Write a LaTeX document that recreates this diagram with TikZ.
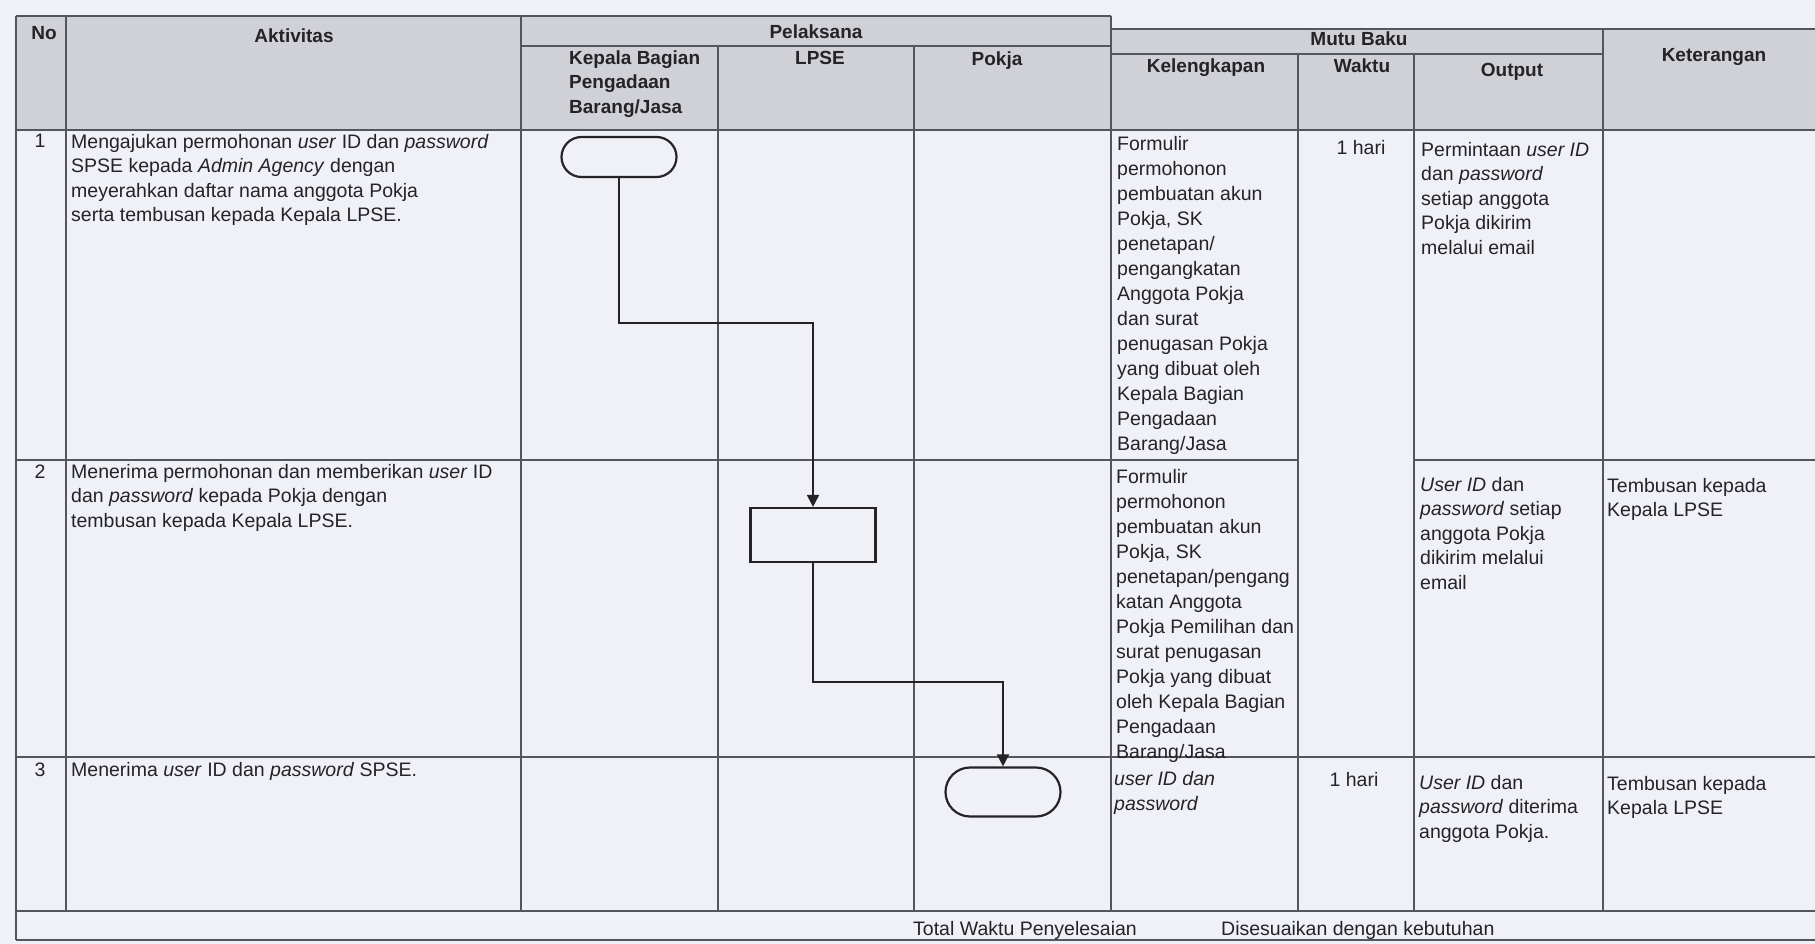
\documentclass[tikz,border=0pt]{standalone}
\usepackage{fontspec}
\setmainfont{Liberation Sans}
\usepackage{xcolor}
\usetikzlibrary{arrows.meta, shapes.misc}
\definecolor{paper}{RGB}{239,241,247}
\definecolor{headgray}{RGB}{208,209,214}
\definecolor{rulegray}{RGB}{85,85,92}
\definecolor{ink}{RGB}{35,35,40}
\newcommand{\bodyfont}{\fontsize{19.5}{24.5}\selectfont}
\newcommand{\kelfont}{\fontsize{19.5}{25}\selectfont}
\newcommand{\headfont}{\fontsize{19}{24.5}\selectfont\bfseries}
\tikzset{>={Triangle[width=12pt,length=12pt]},
grid/.style={draw=rulegray, line width=1.3pt},
cell/.style={anchor=north west, inner sep=0pt, align=left, text=ink, font=\bodyfont},
kel/.style={cell, font=\kelfont},
head/.style={anchor=base, inner sep=0pt, text=ink, font=\headfont},
num/.style={anchor=base, inner sep=0pt, text=ink, font=\bodyfont},
term/.style={rounded rectangle, draw=ink, line width=2.2pt, fill=paper,
  minimum width=115pt, minimum height=40pt, inner sep=0pt},
act/.style={rectangle, draw=ink, line width=2.2pt, fill=paper,
  minimum width=125pt, minimum height=54pt, inner sep=0pt},
flow/.style={draw=ink, line width=2pt, ->}
}

\begin{document}
\begin{tikzpicture}[x=1pt,y=-1pt]
\useasboundingbox (0,0) rectangle (1815,944);
\fill[paper] (0,0) rectangle (1815,944);
\fill[headgray] (16,16) rectangle (1111,130) (1111,29) rectangle (1815,130);
% rules
\draw[grid] (16,16) -- (1111,16) (1111,29) -- (1815,29)
  (521,46) -- (1111,46) (1111,54) -- (1603,54)
  (16,130) -- (1815,130)
  (16,460) -- (1298,460) (1414,460) -- (1815,460)
  (16,757) -- (1815,757) (16,911) -- (1815,911) (16,940) -- (1815,940);
\draw[grid] (16,16) -- (16,940) (1111,16) -- (1111,911) (1603,29) -- (1603,911);
\foreach \x in {66,521} \draw[grid] (\x,16) -- (\x,911);
\foreach \x in {718,914} \draw[grid] (\x,46) -- (\x,911);
\foreach \x in {1298,1414} \draw[grid] (\x,54) -- (\x,911);

% header
\node[head] (hno) at (44,40) {No};
\node[head] (hakt) at (294,43) {Aktivitas};
\node[head] (hpel) at (816,39) {Pelaksana};
\node[head,anchor=north west,align=left] (hkb) at (569,47) {\strut Kepala Bagian\\Pengadaan\\Barang/Jasa};
\node[head] (hlpse) at (820,65) {LPSE};
\node[head] (hpokja) at (997,66) {Pokja};
\node[head] (hmutu) at (1359,46) {Mutu Baku};
\node[head] (hkel) at (1206,73) {Kelengkapan};
\node[head] (hwaktu) at (1362,73) {Waktu};
\node[head] (hout) at (1512,77) {Output};
\node[head] (hket) at (1714,62) {Keterangan};

% row 1
\node[num] (n1) at (40,148) {1};
\node[cell] (akt1) at (71,131) {\strut Mengajukan permohonan \textit{user} ID dan \textit{password}\\
SPSE kepada \textit{Admin Agency} dengan\\
meyerahkan daftar nama anggota Pokja\\
serta tembusan kepada Kepala LPSE.};
\node[kel] (kel1) at (1117,133) {\strut Formulir\\permohonon\\pembuatan akun\\Pokja, SK\\penetapan/\\pengangkatan\\Anggota Pokja\\dan surat\\penugasan Pokja\\yang dibuat oleh\\Kepala Bagian\\Pengadaan\\Barang/Jasa};
\node[num] (w1) at (1361,155) {1 hari};
\node[cell] (out1) at (1421,139) {\strut Permintaan \textit{user ID}\\dan \textit{password}\\setiap anggota\\Pokja dikirim\\melalui email};

% row 2
\node[num] (n2) at (40,478) {2};
\node[cell] (akt2) at (71,461) {\strut Menerima permohonan dan memberikan \textit{user} ID\\
dan \textit{password} kepada Pokja dengan\\
tembusan kepada Kepala LPSE.};
\node[kel] (kel2) at (1116,466) {\strut Formulir\\permohonon\\pembuatan akun\\Pokja, SK\\penetapan/pengang\\katan Anggota\\Pokja Pemilihan dan\\surat penugasan\\Pokja yang dibuat\\oleh Kepala Bagian\\Pengadaan\\Barang/Jasa};
\node[cell] (out2) at (1420,474) {\strut\textit{User ID} dan\\\textit{password} setiap\\anggota Pokja\\dikirim melalui\\email};
\node[cell] (ket2) at (1607,475) {\strut Tembusan kepada\\Kepala LPSE};

% row 3
\node[num] (n3) at (40,776) {3};
\node[cell] (akt3) at (71,759) {\strut Menerima \textit{user} ID dan \textit{password} SPSE.};
\node[kel] (kel3) at (1114,768) {\strut\textit{user ID dan}\\\textit{password}};
\node[num] (w3) at (1354,786) {1 hari};
\node[cell] (out3) at (1419,772) {\strut\textit{User ID} dan\\\textit{password} diterima\\anggota Pokja.};
\node[cell] (ket3) at (1607,773) {\strut Tembusan kepada\\Kepala LPSE};

% total
\node[num,anchor=base west] (tot) at (913,935) {Total Waktu Penyelesaian};
\node[num,anchor=base west] (totv) at (1221,935) {Disesuaikan dengan kebutuhan};

% flow
\node[term] (t1) at (619,157) {};
\node[act] (b2) at (813,535) {};
\node[term,minimum height=49pt] (t3) at (1003,792) {};
\draw[flow] (t1.south) -- ++(0,145) -| (b2.north);
\draw[flow] (b2.south) -- ++(0,119) -| (t3.north);
\end{tikzpicture}
\end{document}
